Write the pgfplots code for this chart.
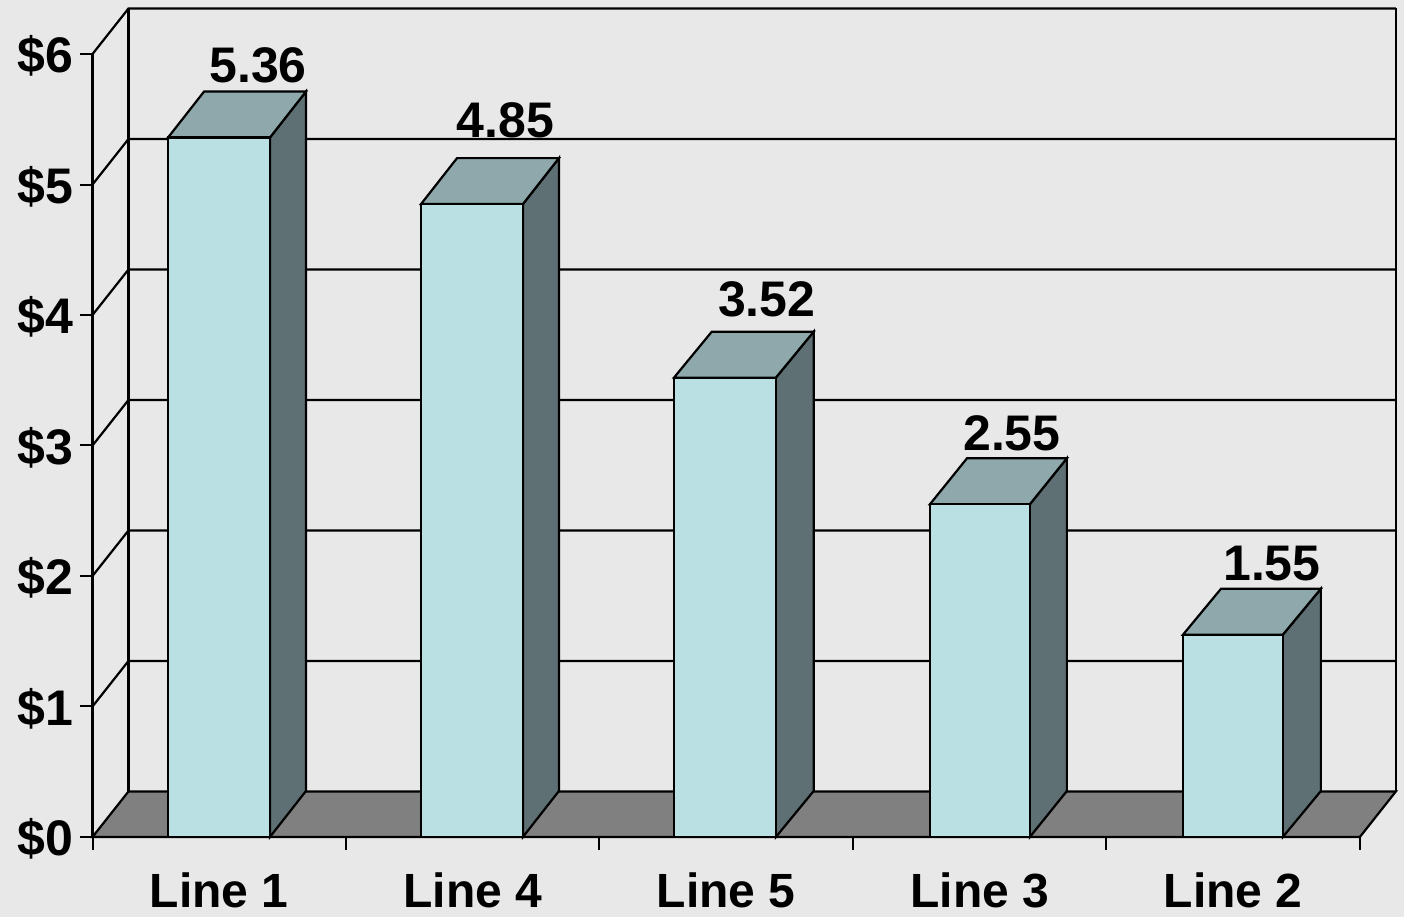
\documentclass[border=0pt]{standalone}
\usepackage{pgfplots}
\pgfplotsset{compat=1.18}
\usepackage{fontspec}
\setmainfont{Liberation Sans}
\definecolor{bgc}{HTML}{E8E8E8}
\definecolor{barf}{HTML}{BAE0E3}
\definecolor{bart}{HTML}{8EA8AB}
\definecolor{bars}{HTML}{5E7073}
\definecolor{floorc}{HTML}{808080}
\newcommand{\bigbf}{\fontsize{48}{50}\selectfont\bfseries}
\newcommand{\numbf}{\fontsize{50}{52}\selectfont\bfseries}
\begin{document}
\begin{tikzpicture}
\begin{axis}[
    scale only axis,
    width=1267.5pt,
    height=783pt,
    xmin=0, xmax=5,
    ymin=0, ymax=6,
    clip=false,
    axis on top,
    axis lines*=left,
    axis line style={-, black, line width=2.3pt},
    xtick={0.5,1.5,2.5,3.5,4.5},
    xticklabels={Line 1, Line 4, Line 5, Line 3, Line 2},
    minor xtick={0,1,2,3,4,5},
    major x tick style={draw=none},
    minor x tick style={black, line width=2pt},
    minor tick length=13pt,
    ytick={0,1,2,3,4,5,6},
    y tick style={black, line width=2pt},
    major tick length=13pt,
    tick align=outside,
    xticklabel style={font=\bigbf, anchor=base, yshift=-58pt},
    yticklabel={\$\pgfmathprintnumber{\tick}},
    yticklabel style={font=\numbf, /pgf/number format/assume math mode=true, xshift=-3pt, yshift=-2pt},
    every axis plot/.append style={line width=2.2pt},
]
% page background
\addplot[fill=bgc, draw=none] coordinates {(-0.365,-0.613) (5.174,-0.613) (5.174,6.414) (-0.365,6.414)} -- cycle;

% floor and walls
\addplot[fill=floorc, draw=black] coordinates {(0,0) (5,0) (5.142,0.349) (0.142,0.349)} -- cycle;
\addplot[black] coordinates {(0.142,0.349) (0.142,6.349)};
\addplot[black] coordinates {(5.142,0.349) (5.142,6.349)};
\addplot[black] coordinates {(0,1) (0.142,1.349) (5.142,1.349)};
\addplot[black] coordinates {(0,2) (0.142,2.349) (5.142,2.349)};
\addplot[black] coordinates {(0,3) (0.142,3.349) (5.142,3.349)};
\addplot[black] coordinates {(0,4) (0.142,4.349) (5.142,4.349)};
\addplot[black] coordinates {(0,5) (0.142,5.349) (5.142,5.349)};
\addplot[black] coordinates {(0,6) (0.142,6.349) (5.142,6.349)};

% Line 1
\addplot[fill=bars, draw=black] coordinates {(0.700,0) (0.842,0.352) (0.842,5.712) (0.700,5.36)} -- cycle;
\addplot[fill=bart, draw=black] coordinates {(0.298,5.36) (0.700,5.36) (0.842,5.712) (0.440,5.712)} -- cycle;
\addplot[fill=barf, draw=black] coordinates {(0.298,0) (0.700,0) (0.700,5.36) (0.298,5.36)} -- cycle;
% Line 4
\addplot[fill=bars, draw=black] coordinates {(1.698,0) (1.840,0.352) (1.840,5.202) (1.698,4.85)} -- cycle;
\addplot[fill=bart, draw=black] coordinates {(1.296,4.85) (1.698,4.85) (1.840,5.202) (1.438,5.202)} -- cycle;
\addplot[fill=barf, draw=black] coordinates {(1.296,0) (1.698,0) (1.698,4.85) (1.296,4.85)} -- cycle;
% Line 5
\addplot[fill=bars, draw=black] coordinates {(2.696,0) (2.845,0.352) (2.845,3.872) (2.696,3.52)} -- cycle;
\addplot[fill=bart, draw=black] coordinates {(2.294,3.52) (2.696,3.52) (2.845,3.872) (2.443,3.872)} -- cycle;
\addplot[fill=barf, draw=black] coordinates {(2.294,0) (2.696,0) (2.696,3.52) (2.294,3.52)} -- cycle;
% Line 3
\addplot[fill=bars, draw=black] coordinates {(3.698,0) (3.844,0.352) (3.844,2.902) (3.698,2.55)} -- cycle;
\addplot[fill=bart, draw=black] coordinates {(3.304,2.55) (3.698,2.55) (3.844,2.902) (3.450,2.902)} -- cycle;
\addplot[fill=barf, draw=black] coordinates {(3.304,0) (3.698,0) (3.698,2.55) (3.304,2.55)} -- cycle;
% Line 2
\addplot[fill=bars, draw=black] coordinates {(4.696,0) (4.846,0.352) (4.846,1.902) (4.696,1.55)} -- cycle;
\addplot[fill=bart, draw=black] coordinates {(4.302,1.55) (4.696,1.55) (4.846,1.902) (4.452,1.902)} -- cycle;
\addplot[fill=barf, draw=black] coordinates {(4.302,0) (4.696,0) (4.696,1.55) (4.302,1.55)} -- cycle;

% value labels
\node[anchor=base, font=\numbf, inner sep=0pt] at (axis cs:0.653,5.782) {5.36};
\node[anchor=base, font=\numbf, inner sep=0pt] at (axis cs:1.629,5.364) {4.85};
\node[anchor=base, font=\numbf, inner sep=0pt] at (axis cs:2.660,3.985) {3.52};
\node[anchor=base, font=\numbf, inner sep=0pt] at (axis cs:3.627,2.958) {2.55};
\node[anchor=base, font=\numbf, inner sep=0pt] at (axis cs:4.653,1.962) {1.55};
\end{axis}
\end{tikzpicture}
\end{document}
